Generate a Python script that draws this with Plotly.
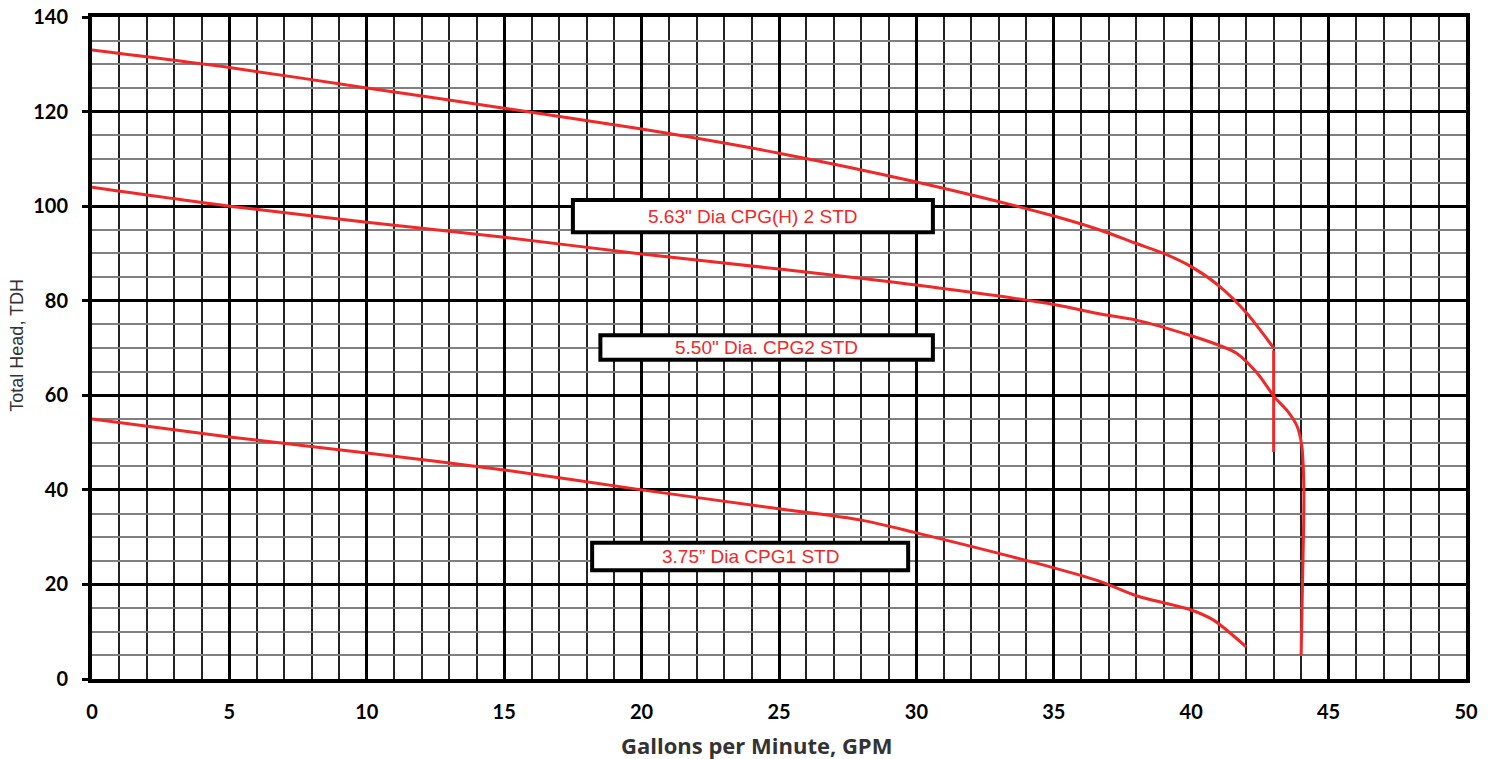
import plotly.graph_objects as go

# 5.63" Dia CPG(H) 2 STD
x_563 = [0, 5, 10, 15, 20, 25, 30, 35, 36.7, 38, 39, 40, 41, 42, 43]
y_563 = [133, 129.3, 125, 120.7, 116.3, 111.2, 105.1, 97.9, 94.9, 92.1, 90, 87.2, 83.2, 77.5, 70]
x_563_drop = [43, 43]
y_563_drop = [69.5, 48]

# 5.50" Dia. CPG2 STD
x_550 = [0, 5, 10, 15, 20, 25, 30, 35, 36.7, 38, 40, 41, 41.65, 42.4, 43.05, 43.5, 43.85, 44.02, 44.1, 44.05, 44.0]
y_550 = [104, 100, 96.6, 93.4, 89.9, 86.7, 83.3, 79.2, 77.2, 75.9, 72.6, 70.6, 68.9, 64.7, 59.5, 56.7, 53.5, 49.5, 40, 20, 5]

# 3.75" Dia CPG1 STD
x_375 = [0, 5, 10, 15, 20, 25, 28, 30, 35, 36.7, 38, 40, 40.8, 42]
y_375 = [55, 51.2, 47.8, 44.2, 40, 36, 33.6, 30.9, 23.5, 20.6, 17.6, 14.6, 12.5, 6.8]

labels = ['5.63" Dia CPG(H) 2 STD', '5.50" Dia. CPG2 STD', '3.75\u201d Dia CPG1 STD']
box_x0 = [17.5, 18.5, 18.2]
box_x1 = [30.6, 30.6, 29.7]
box_y0 = [94.5, 67.5, 23.0]
box_y1 = [101.3, 72.7, 28.8]

x_ticks = [0, 5, 10, 15, 20, 25, 30, 35, 40, 45, 50]
y_ticks = [0, 20, 40, 60, 80, 100, 120, 140]

x_title = "Gallons per Minute, GPM"
y_title = "Total Head, TDH"

red = "#F02828"
fig = go.Figure()
line = dict(color=red, width=3, shape="spline", smoothing=0.8)
fig.add_trace(go.Scatter(x=x_563, y=y_563, mode="lines", line=line, hoverinfo="skip"))
fig.add_trace(go.Scatter(x=x_563_drop, y=y_563_drop, mode="lines",
                         line=dict(color=red, width=3), hoverinfo="skip"))
fig.add_trace(go.Scatter(x=x_550, y=y_550, mode="lines", line=line, hoverinfo="skip"))
fig.add_trace(go.Scatter(x=x_375, y=y_375, mode="lines", line=line, hoverinfo="skip"))

for lab, a, b, c, d in zip(labels, box_x0, box_x1, box_y0, box_y1):
    fig.add_shape(type="rect", x0=a, x1=b, y0=c, y1=d, xref="x", yref="y",
                  line=dict(color="black", width=4), fillcolor="white", layer="above")
    fig.add_annotation(x=(a + b) / 2, y=(c + d) / 2, text=lab, showarrow=False,
                       font=dict(family="Liberation Sans, Arial", size=19, color=red))

# axis titles as paper annotations
fig.add_annotation(xref="paper", yref="paper", x=0.4833, y=-0.0997, text=x_title,
                   showarrow=False, xanchor="center", yanchor="middle",
                   font=dict(family="Open Sans", size=22, color="#333333", weight="bold"))
fig.add_annotation(xref="paper", yref="paper", x=-0.0546, y=0.505, text=y_title,
                   showarrow=False, xanchor="center", yanchor="middle", textangle=-90,
                   font=dict(family="Liberation Sans, Arial", size=18, color="#333333"))

tickfont = dict(family="Lato", size=20, color="black", weight="bold")
fig.update_layout(
    width=1493, height=759,
    margin=dict(l=92, r=27, t=17, b=80),
    paper_bgcolor="white", plot_bgcolor="white",
    showlegend=False,
    font=dict(family="Lato, Open Sans", color="black"),
    xaxis=dict(range=[0, 50], tickvals=x_ticks, ticktext=[str(v) for v in x_ticks],
               showgrid=True, gridcolor="black", gridwidth=3,
               minor=dict(dtick=1, showgrid=True, gridcolor="#222222", gridwidth=1.5),
               showline=True, linecolor="black", linewidth=4, mirror=True,
               ticks="", tickfont=tickfont, ticklabelstandoff=12,
               automargin=False, zeroline=False, fixedrange=True),
    yaxis=dict(range=[0, 140], tickvals=y_ticks, ticktext=[str(v) for v in y_ticks],
               showgrid=True, gridcolor="black", gridwidth=3,
               minor=dict(dtick=5, showgrid=True, gridcolor="#808080", gridwidth=1.5),
               showline=True, linecolor="black", linewidth=4, mirror=True,
               ticks="outside", ticklen=6, tickwidth=3, tickcolor="black",
               tickfont=tickfont, ticklabelstandoff=10,
               automargin=False, zeroline=False, fixedrange=True),
)

fig.write_html("out.html", config={"displayModeBar": False},
               post_script="document.body.style.margin='0';document.body.style.overflow='hidden';")
